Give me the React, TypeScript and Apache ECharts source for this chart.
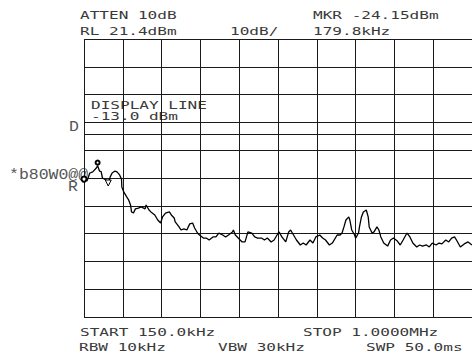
import React, { useEffect, useRef } from "react";
import * as echarts from "echarts";

// Instrument settings
const START_KHZ = 150;
const STOP_KHZ = 1000;
const REF_LEVEL_DBM = 21.4;
const DB_PER_DIV = 10;
const DIVISIONS = 10;
const DISPLAY_LINE_DBM = -13.0;
const MARKER_KHZ = 179.8;
const MARKER_DBM = -24.15;

// Header / footer annotation texts
const headerLeft = ["ATTEN 10dB", "RL 21.4dBm"];
const headerScale = "10dB/";
const headerRight = ["MKR -24.15dBm", "179.8kHz"];
const displayLineText = ["DISPLAY LINE", "-13.0 dBm"];
const footerTop = ["START 150.0kHz", "STOP 1.0000MHz"];
const footerBottom = ["RBW 10kHz", "VBW 30kHz", "SWP 50.0ms"];
const sideLabels = ["*b80W0@@", "D", "R"];

// Trace
const traceKHz = [
  150, 156.4, 162.8, 169.1, 177.0, 179.8, 184.0, 187.6, 190.4, 198.2, 203.1, 207.4, 211.6, 218.0, 222.3,
  228.0, 232.2, 232.9, 237.1, 243.5, 247.8, 252.0, 254.1, 258.4, 262.6, 269.0, 275.4, 283.9, 286.0, 292.4,
  296.6, 305.1, 311.5, 317.9, 322.1, 328.5, 337.0, 341.3, 347.6, 349.8, 358.3, 362.5, 368.9, 375.3, 381.6,
  388.0, 392.3, 398.6, 402.9, 411.4, 417.8, 424.1, 432.6, 439.0, 445.4, 453.9, 460.3, 466.6, 475.1, 477.3,
  481.5, 487.9, 496.4, 502.8, 509.1, 517.6, 524.0, 530.4, 538.9, 545.3, 551.6, 560.1, 566.5, 572.9, 577.1,
  583.5, 592.0, 598.4, 602.6, 609.0, 615.4, 623.9, 630.3, 636.6, 645.1, 651.5, 657.9, 666.4, 672.8, 679.1,
  687.6, 694.0, 704.6, 711.0, 715.3, 719.5, 723.8, 730.1, 732.3, 736.5, 742.9, 745.0, 751.4, 753.5, 757.8,
  762.0, 768.4, 772.6, 774.8, 781.1, 785.4, 791.8, 796.0, 800.3, 806.6, 815.1, 821.5, 827.9, 836.4, 842.8,
  849.1, 857.6, 864.0, 870.4, 878.9, 885.3, 891.6, 900.1, 906.5, 912.9, 921.4, 927.8, 934.1, 942.6, 949.0,
  955.4, 961.8, 966.0, 974.5, 983.0, 991.5, 1000,
];
const traceDbm = [
  -29.0, -29.7, -26.8, -26.4, -25.0, -24.2, -26.1, -26.3, -28.6, -29.3, -30.4, -28.2, -26.8, -26.1, -26.4,
  -27.5, -29.0, -31.8, -33.6, -35.4, -36.5, -38.3, -40.8, -41.2, -39.7, -39.4, -39.0, -39.7, -38.3, -40.1,
  -40.8, -41.9, -43.7, -44.8, -42.6, -41.2, -40.8, -41.9, -43.0, -44.4, -46.2, -47.3, -46.9, -47.3, -45.1,
  -44.8, -46.6, -48.4, -49.1, -50.2, -50.2, -50.9, -49.8, -49.8, -48.4, -49.1, -49.8, -49.1, -48.0, -47.3,
  -49.1, -50.2, -51.6, -51.6, -48.0, -48.4, -49.8, -50.2, -50.2, -50.9, -50.2, -51.6, -50.9, -49.1, -48.0,
  -49.8, -51.6, -48.0, -47.3, -49.1, -50.9, -52.7, -52.0, -52.7, -50.9, -52.0, -49.8, -49.1, -50.2, -50.9,
  -52.7, -52.0, -49.1, -49.1, -48.4, -46.2, -43.7, -42.6, -43.7, -47.3, -49.1, -50.2, -48.4, -46.2, -42.6,
  -40.8, -40.1, -42.6, -46.2, -48.4, -48.0, -46.2, -47.3, -49.8, -52.0, -53.1, -50.9, -50.2, -51.3, -52.7,
  -50.9, -48.4, -49.8, -52.0, -53.4, -52.7, -53.1, -52.7, -53.4, -52.0, -52.7, -52.0, -52.3, -50.9, -51.6,
  -50.2, -49.8, -50.9, -53.4, -52.3, -51.6, -52.7,
];

const SPAN = STOP_KHZ - START_KHZ;
const toX = (f: number) => f - START_KHZ;
const toY = (dbm: number) => dbm - REF_LEVEL_DBM;

const MONO = '"DejaVu Sans Mono", monospace';
const SIDE_FONT = '"Liberation Mono", monospace';
const TEXT_COLOR = "#3a3a3a";

function label(text: string, x: number, y: number) {
  return {
    type: "text",
    x,
    y,
    scaleX: 1.46,
    style: {
      text,
      fill: TEXT_COLOR,
      fontFamily: MONO,
      fontSize: 11,
      textVerticalAlign: "middle",
    },
    silent: true,
  };
}

function sideLabel(text: string, x: number, y: number) {
  return {
    type: "text",
    x,
    y,
    scaleX: 1.1,
    style: {
      text,
      fill: "#555",
      fontFamily: SIDE_FONT,
      fontSize: 15,
      textVerticalAlign: "middle",
    },
    silent: true,
  };
}

export default function App() {
  const ref = useRef<HTMLDivElement>(null);
  useEffect(() => {
    if (!ref.current) return;
    const chart = echarts.init(ref.current, undefined, { renderer: "svg" });
    const data = traceKHz.map((f, i) => [toX(f), toY(traceDbm[i])]);
    const gridLine = { show: true, lineStyle: { color: "#1a1a1a", width: 1, type: "solid" } };
    chart.setOption({
      animation: false,
      backgroundColor: "#ffffff",
      grid: { left: 84, top: 39, width: 400, height: 278 },
      xAxis: {
        type: "value",
        min: 0,
        max: SPAN,
        interval: SPAN / DIVISIONS,
        axisLine: { show: false },
        axisTick: { show: false },
        axisLabel: { show: false },
        splitLine: gridLine,
      },
      yAxis: {
        type: "value",
        min: -DB_PER_DIV * DIVISIONS,
        max: 0,
        interval: DB_PER_DIV,
        axisLine: { show: false },
        axisTick: { show: false },
        axisLabel: { show: false },
        splitLine: gridLine,
      },
      series: [
        {
          type: "line",
          data,
          showSymbol: false,
          lineStyle: { color: "#000", width: 1.3 },
          clip: false,
          markLine: {
            silent: true,
            symbol: "none",
            label: { show: false },
            lineStyle: { color: "#1a1a1a", width: 1, type: "solid" },
            data: [{ yAxis: toY(DISPLAY_LINE_DBM) }],
          },
          markPoint: {
            silent: true,
            label: { show: false },
            data: [
              {
                coord: [toX(MARKER_KHZ), toY(MARKER_DBM)],
                symbol: "emptyCircle",
                symbolSize: 4,
                symbolOffset: [0, -3],
                itemStyle: { color: "#000", borderColor: "#000", borderWidth: 1 },
              },
              {
                coord: [toX(traceKHz[0]), toY(traceDbm[0])],
                symbol: "emptyCircle",
                symbolSize: 5,
                itemStyle: { color: "#000", borderColor: "#000", borderWidth: 1 },
              },
              {
                coord: [toX(203.1), toY(traceDbm[10])],
                symbol: "triangle",
                symbolRotate: 180,
                symbolSize: 6,
                itemStyle: { color: "#fff", borderColor: "#000", borderWidth: 1 },
              },
            ],
          },
        },
      ],
      graphic: [
        label(headerLeft[0], 80, 15),
        label(headerLeft[1], 80, 31),
        label(headerScale, 230, 31),
        label(headerRight[0], 313, 15),
        label(headerRight[1], 313, 31),
        label(displayLineText[0], 91, 105),
        label(displayLineText[1], 91, 116),
        label(footerTop[0], 80, 332),
        label(footerTop[1], 303, 332),
        label(footerBottom[0], 79, 347),
        label(footerBottom[1], 218, 347),
        label(footerBottom[2], 366, 347),
        sideLabel(sideLabels[0], 9, 175),
        sideLabel(sideLabels[1], 69, 127),
        sideLabel(sideLabels[2], 68, 187),
      ],
    });
    return () => chart.dispose();
  }, []);
  return (
    <div
      ref={ref}
      style={{ position: "absolute", left: 0, top: 0, width: 472, height: 358, overflow: "hidden" }}
    />
  );
}
